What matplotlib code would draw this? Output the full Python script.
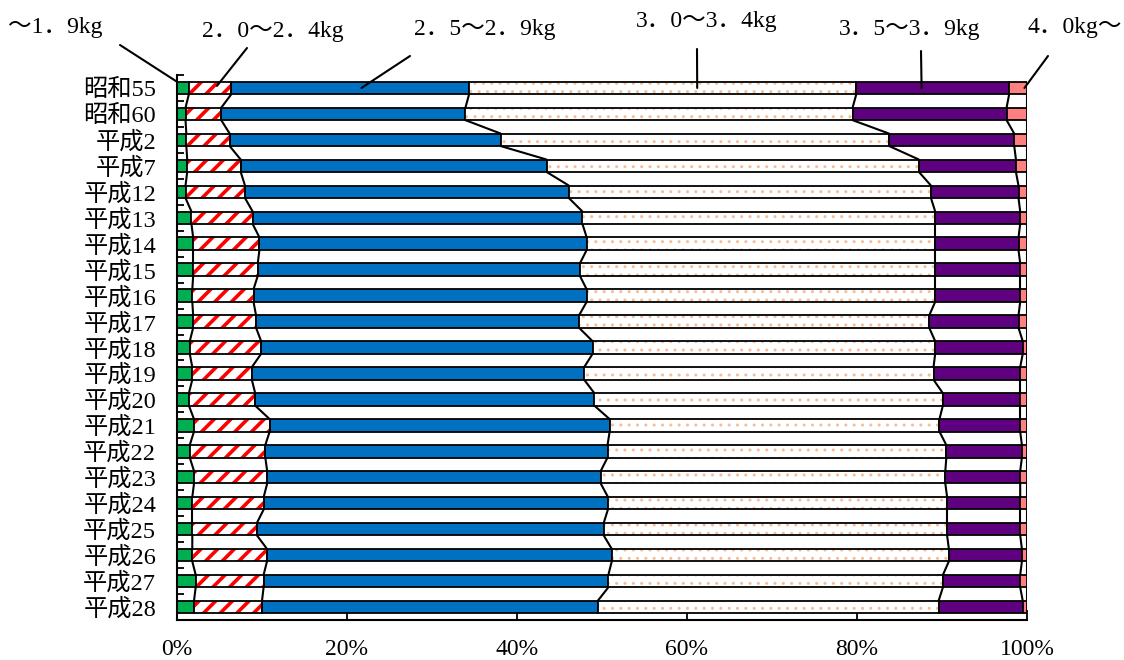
import numpy as np
import matplotlib.pyplot as plt

plt.rcParams['font.family'] = ['Liberation Serif', 'Noto Sans CJK JP']

# ==========================================
# data (percent of births by birth weight)
# ==========================================
years = ['昭和55', '昭和60', '平成2', '平成7', '平成12', '平成13', '平成14', '平成15',
         '平成16', '平成17', '平成18', '平成19', '平成20', '平成21', '平成22', '平成23',
         '平成24', '平成25', '平成26', '平成27', '平成28']

series_names = ['～1．9kg', '2．0～2．4kg', '2．5～2．9kg',
                '3．0～3．4kg', '3．5～3．9kg', '4．0kg～']

w_1_9 = [1.4, 1.0, 1.1, 1.2, 1.0, 1.7, 1.9, 1.9, 1.8, 1.9, 1.5,
         1.8, 1.4, 2.0, 1.5, 2.0, 1.8, 1.8, 1.8, 2.2, 2.0]
w_2_0 = [5.0, 4.2, 5.1, 6.3, 7.0, 7.2, 7.8, 7.6, 7.2, 7.4, 8.4,
         7.0, 7.8, 8.9, 8.9, 8.6, 8.4, 7.6, 8.8, 8.0, 8.0]
w_2_5 = [28.0, 28.7, 31.9, 36.0, 38.1, 38.8, 38.5, 37.9, 39.2, 38.0, 39.0,
         39.1, 39.9, 40.0, 40.3, 39.2, 40.5, 40.8, 40.6, 40.6, 39.5]
w_3_0 = [45.6, 45.5, 45.7, 43.8, 42.6, 41.5, 41.0, 41.8, 41.0, 41.2, 40.3,
         41.1, 41.0, 38.8, 39.9, 40.5, 39.9, 40.4, 39.7, 39.4, 40.1]
w_3_5 = [18.0, 18.1, 14.7, 11.4, 10.3, 10.0, 9.8, 10.0, 10.0, 10.5, 10.3,
         10.2, 9.1, 9.5, 8.9, 8.8, 8.6, 8.6, 8.6, 9.1, 9.9]
w_4_0 = [2.1, 2.4, 1.5, 1.3, 1.0, 0.8, 1.0, 0.8, 0.8, 1.0, 0.5,
         0.8, 0.8, 0.8, 0.6, 0.8, 0.8, 0.8, 0.6, 0.8, 0.5]

# ==========================================
# styles
# ==========================================
styles = [
    dict(face='#00B050', hatch=None, hcol=None),
    dict(face='white', hatch='//', hcol='#FF0000'),
    dict(face='#0070C0', hatch=None, hcol=None),
    dict(face='white', hatch='..', hcol='#F6BE98'),
    dict(face='#5F0080', hatch=None, hcol=None),
    dict(face='#FF8080', hatch=None, hcol=None),
]
hatch_lw = {'//': 2.6, '..': 1.0}

vals = np.array([w_1_9, w_2_0, w_2_5, w_3_0, w_3_5, w_4_0], dtype=float)
vals = vals / vals.sum(axis=0) * 100
cum = np.cumsum(vals, axis=0)
left = cum - vals

n = len(years)
ypos = np.arange(n)
bar_h = 0.48

fig = plt.figure(figsize=(11.24, 6.6), dpi=100)
W, H = 1124, 660
ax = fig.add_axes([177 / W, 1 - 620 / H, 850 / W, 545 / H])

for k, st in enumerate(styles):
    if st['hatch'] is None:
        ax.barh(ypos, vals[k], left=left[k], height=bar_h, color=st['face'],
                edgecolor='black', linewidth=1.3, zorder=2)
    else:
        with plt.rc_context({'hatch.linewidth': hatch_lw[st['hatch']]}):
            ax.barh(ypos, vals[k], left=left[k], height=bar_h, color=st['face'],
                    edgecolor=st['hcol'], hatch=st['hatch'], linewidth=0, zorder=2)
        ax.barh(ypos, vals[k], left=left[k], height=bar_h, facecolor='none',
                edgecolor='black', linewidth=1.3, zorder=2.5)

# series lines between neighbouring bars
for k in range(len(styles)):
    for i in range(n - 1):
        ax.plot([cum[k, i], cum[k, i + 1]],
                [ypos[i] + bar_h / 2, ypos[i + 1] - bar_h / 2],
                color='black', lw=1.5, zorder=3, solid_capstyle='butt')

ax.set_xlim(0, 100)
ax.set_ylim(n - 0.5, -0.5)

ax.set_xticks(np.arange(0, 101, 20))
ax.set_xticklabels([f'{t}%' for t in range(0, 101, 20)])
ax.tick_params(axis='x', direction='in', length=7, width=1.3, pad=14, labelsize=17)

ax.set_yticks(ypos)
ax.set_yticklabels(years)
ax.set_yticks(np.arange(-0.5, n, 1.0), minor=True)
ax.tick_params(axis='y', which='major', length=0, pad=15, labelsize=17.5)
ax.tick_params(axis='y', which='minor', direction='in', length=5, width=1.3)

for s in ['top', 'right']:
    ax.spines[s].set_visible(False)
for s in ['left', 'bottom']:
    ax.spines[s].set_linewidth(1.5)

# series name labels with leader lines
label_pos = [(55, 27), (273, 32), (485, 30), (707, 22), (910, 29), (1075, 27)]
line_start = [(120, 45), (247, 48), (410, 56), (697, 49), (921, 51), (1048, 56)]
line_end = [(0.0, -0.24), (4.7, -0.08), (21.7, 0.0), (61.2, 0.0), (87.6, 0.0), (99.7, 0.0)]

for name, (tx, ty), (sx, sy), (ex, ey) in zip(series_names, label_pos, line_start, line_end):
    fig.text(tx / W, 1 - ty / H, name, ha='center', va='center', fontsize=17)
    ax.annotate('', xy=(ex, ey), xytext=(sx, H - sy), textcoords='figure pixels',
                arrowprops=dict(arrowstyle='-', color='black', lw=1.5,
                                shrinkA=0, shrinkB=0),
                annotation_clip=False, zorder=4)

fig.savefig('out.png', dpi=100)
